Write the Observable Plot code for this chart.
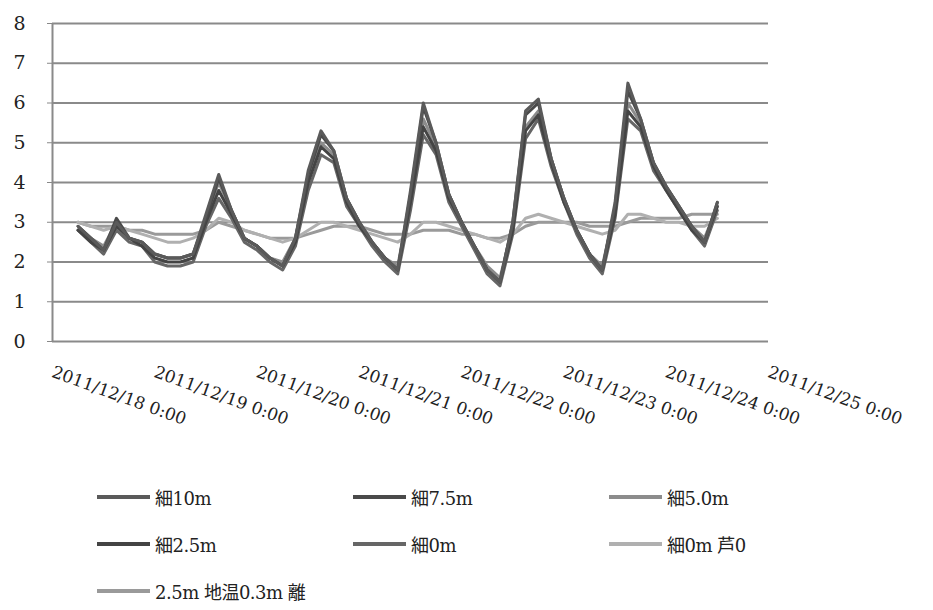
<!DOCTYPE html>
<html>
<head>
<meta charset="utf-8">
<script src="https://cdn.jsdelivr.net/npm/d3@7"></script>
<script src="https://cdn.jsdelivr.net/npm/@observablehq/plot@0.6"></script>
<style>
  body { margin: 0; background: #fff; font-family: "DejaVu Serif", "Times New Roman", "Liberation Serif", "Noto Sans CJK JP", serif; }
  #wrap { position: relative; width: 933px; height: 610px; }
  #legend { position: absolute; left: 97px; top: 484px; display: grid; grid-template-columns: 256px 256px 256px; row-gap: 22px; }
  .item { display: flex; align-items: center; height: 25px; font-size: 18px; color: #222; letter-spacing: -0.5px; }
  .sw { width: 53px; height: 4px; margin-right: 5px; }
</style>
</head>
<body>
<div id="wrap">
  <div id="chart"></div>
  <div id="legend"></div>
</div>
<script>
// hours since 2011/12/18 0:00
const hours = [6,9,12,15,18,21,24,27,30,33,36,39,42,45,48,51,54,57,60,63,66,69,72,75,78,81,84,87,90,93,96,99,102,105,108,111,114,117,120,123,126,129,132,135,138,141,144,147,150,153,156];
const seriesNames = ["細10m", "細7.5m", "細5.0m", "細2.5m", "細0m", "細0m 芦0", "2.5m 地温0.3m 離"];
const seriesColors = ["#5a5a5a", "#4a4a4a", "#8c8c8c", "#444444", "#666666", "#b0b0b0", "#9a9a9a"];
const s10  = [2.9,2.6,2.3,3.0,2.6,2.5,2.2,2.1,2.1,2.2,3.2,4.2,3.3,2.6,2.4,2.1,1.9,2.6,4.3,5.3,4.8,3.6,3.0,2.5,2.1,1.8,3.8,6.0,5.0,3.7,3.0,2.4,1.8,1.5,3.0,5.8,6.1,4.6,3.6,2.8,2.2,1.8,3.5,6.5,5.6,4.5,3.9,3.4,2.9,2.5,3.5];
const s75  = [2.9,2.6,2.3,3.1,2.6,2.5,2.2,2.1,2.1,2.2,3.1,4.1,3.3,2.6,2.4,2.1,1.9,2.6,4.2,5.2,4.8,3.6,3.0,2.5,2.1,1.8,3.7,5.9,5.0,3.7,3.0,2.4,1.8,1.5,3.0,5.7,6.0,4.6,3.6,2.8,2.2,1.8,3.4,6.3,5.6,4.5,3.9,3.4,2.9,2.5,3.5];
const s50  = [2.8,2.6,2.4,3.0,2.6,2.5,2.2,2.1,2.1,2.2,3.1,4.0,3.3,2.6,2.4,2.1,2.0,2.6,4.1,5.0,4.7,3.6,3.0,2.5,2.1,1.9,3.6,5.6,4.9,3.7,3.0,2.4,1.9,1.6,2.9,5.4,5.8,4.6,3.6,2.8,2.2,1.9,3.3,6.0,5.5,4.5,3.9,3.4,2.9,2.6,3.4];
const s25  = [2.8,2.5,2.3,2.9,2.6,2.4,2.1,2.0,2.0,2.1,3.0,3.8,3.2,2.6,2.4,2.1,1.9,2.5,4.0,4.9,4.6,3.5,2.9,2.5,2.1,1.8,3.5,5.4,4.8,3.6,3.0,2.4,1.8,1.5,2.8,5.3,5.7,4.5,3.5,2.8,2.2,1.8,3.2,5.8,5.4,4.4,3.8,3.3,2.8,2.5,3.4];
const s0   = [2.8,2.5,2.2,2.8,2.5,2.4,2.0,1.9,1.9,2.0,2.9,3.6,3.1,2.5,2.3,2.0,1.8,2.4,3.8,4.7,4.5,3.4,2.9,2.4,2.0,1.7,3.3,5.2,4.7,3.5,2.9,2.3,1.7,1.4,2.7,5.1,5.6,4.4,3.5,2.7,2.1,1.7,3.1,5.6,5.3,4.3,3.8,3.3,2.8,2.4,3.3];
const s0r  = [3.0,2.9,2.8,2.9,2.8,2.7,2.6,2.5,2.5,2.6,2.8,3.1,3.0,2.8,2.7,2.6,2.5,2.6,2.8,3.0,3.0,2.9,2.8,2.7,2.6,2.5,2.7,3.0,3.0,2.9,2.8,2.7,2.6,2.5,2.7,3.1,3.2,3.1,3.0,2.9,2.8,2.7,2.8,3.2,3.2,3.1,3.0,3.0,2.9,2.9,3.1];
const ground = [3.0,2.9,2.9,2.9,2.8,2.8,2.7,2.7,2.7,2.7,2.8,3.0,2.9,2.8,2.7,2.6,2.6,2.6,2.7,2.8,2.9,2.9,2.9,2.8,2.7,2.7,2.7,2.8,2.8,2.8,2.7,2.7,2.6,2.6,2.7,2.9,3.0,3.0,3.0,3.0,2.9,2.9,2.9,3.0,3.1,3.1,3.1,3.1,3.2,3.2,3.2];
const xTicks = [0,24,48,72,96,120,144,168];
const xTickLabels = ["2011/12/18 0:00","2011/12/19 0:00","2011/12/20 0:00","2011/12/21 0:00","2011/12/22 0:00","2011/12/23 0:00","2011/12/24 0:00","2011/12/25 0:00"];
const yTicks = [0,1,2,3,4,5,6,7,8];

const allSeries = [s10, s75, s50, s25, s0, s0r, ground];
const rows = [];
allSeries.forEach((vals, i) => vals.forEach((v, j) => rows.push({h: hours[j], v, s: seriesNames[i]})));
const drawOrder = [6, 5, 2, 4, 3, 1, 0];

const chart = Plot.plot({
  width: 933,
  height: 460,
  marginLeft: 52,
  marginRight: 165,
  marginTop: 23,
  marginBottom: 119,
  style: {fontFamily: "'DejaVu Serif', 'Times New Roman', 'Liberation Serif', serif", fontSize: "17px", color: "#222"},
  x: {domain: [0, 168], label: null},
  y: {domain: [0, 8], label: null},
  color: {domain: seriesNames, range: seriesColors},
  marks: [
    Plot.ruleY(yTicks, {stroke: "#8a8a8a", strokeWidth: 2}),
    Plot.ruleX([0], {stroke: "#8a8a8a", strokeWidth: 2}),
    Plot.axisY({ticks: yTicks, tickSize: 5, tickPadding: 22, fontSize: 19, label: null, stroke: "#888"}),
    Plot.axisX({ticks: xTicks, tickFormat: (d) => xTickLabels[xTicks.indexOf(d)], tickRotate: 20, tickSize: 0, tickPadding: 30, fontSize: 17, label: null}),
    ...drawOrder.map(i => Plot.line(rows.filter(r => r.s === seriesNames[i]), {x: "h", y: "v", stroke: "s", strokeWidth: 3, curve: "linear"}))
  ]
});
document.getElementById("chart").appendChild(chart);

const legend = document.getElementById("legend");
seriesNames.forEach((n, i) => {
  const it = document.createElement("div");
  it.className = "item";
  const sw = document.createElement("span");
  sw.className = "sw";
  sw.style.background = seriesColors[i];
  const t = document.createElement("span");
  t.textContent = n;
  it.appendChild(sw); it.appendChild(t);
  legend.appendChild(it);
});
</script>
</body>
</html>
